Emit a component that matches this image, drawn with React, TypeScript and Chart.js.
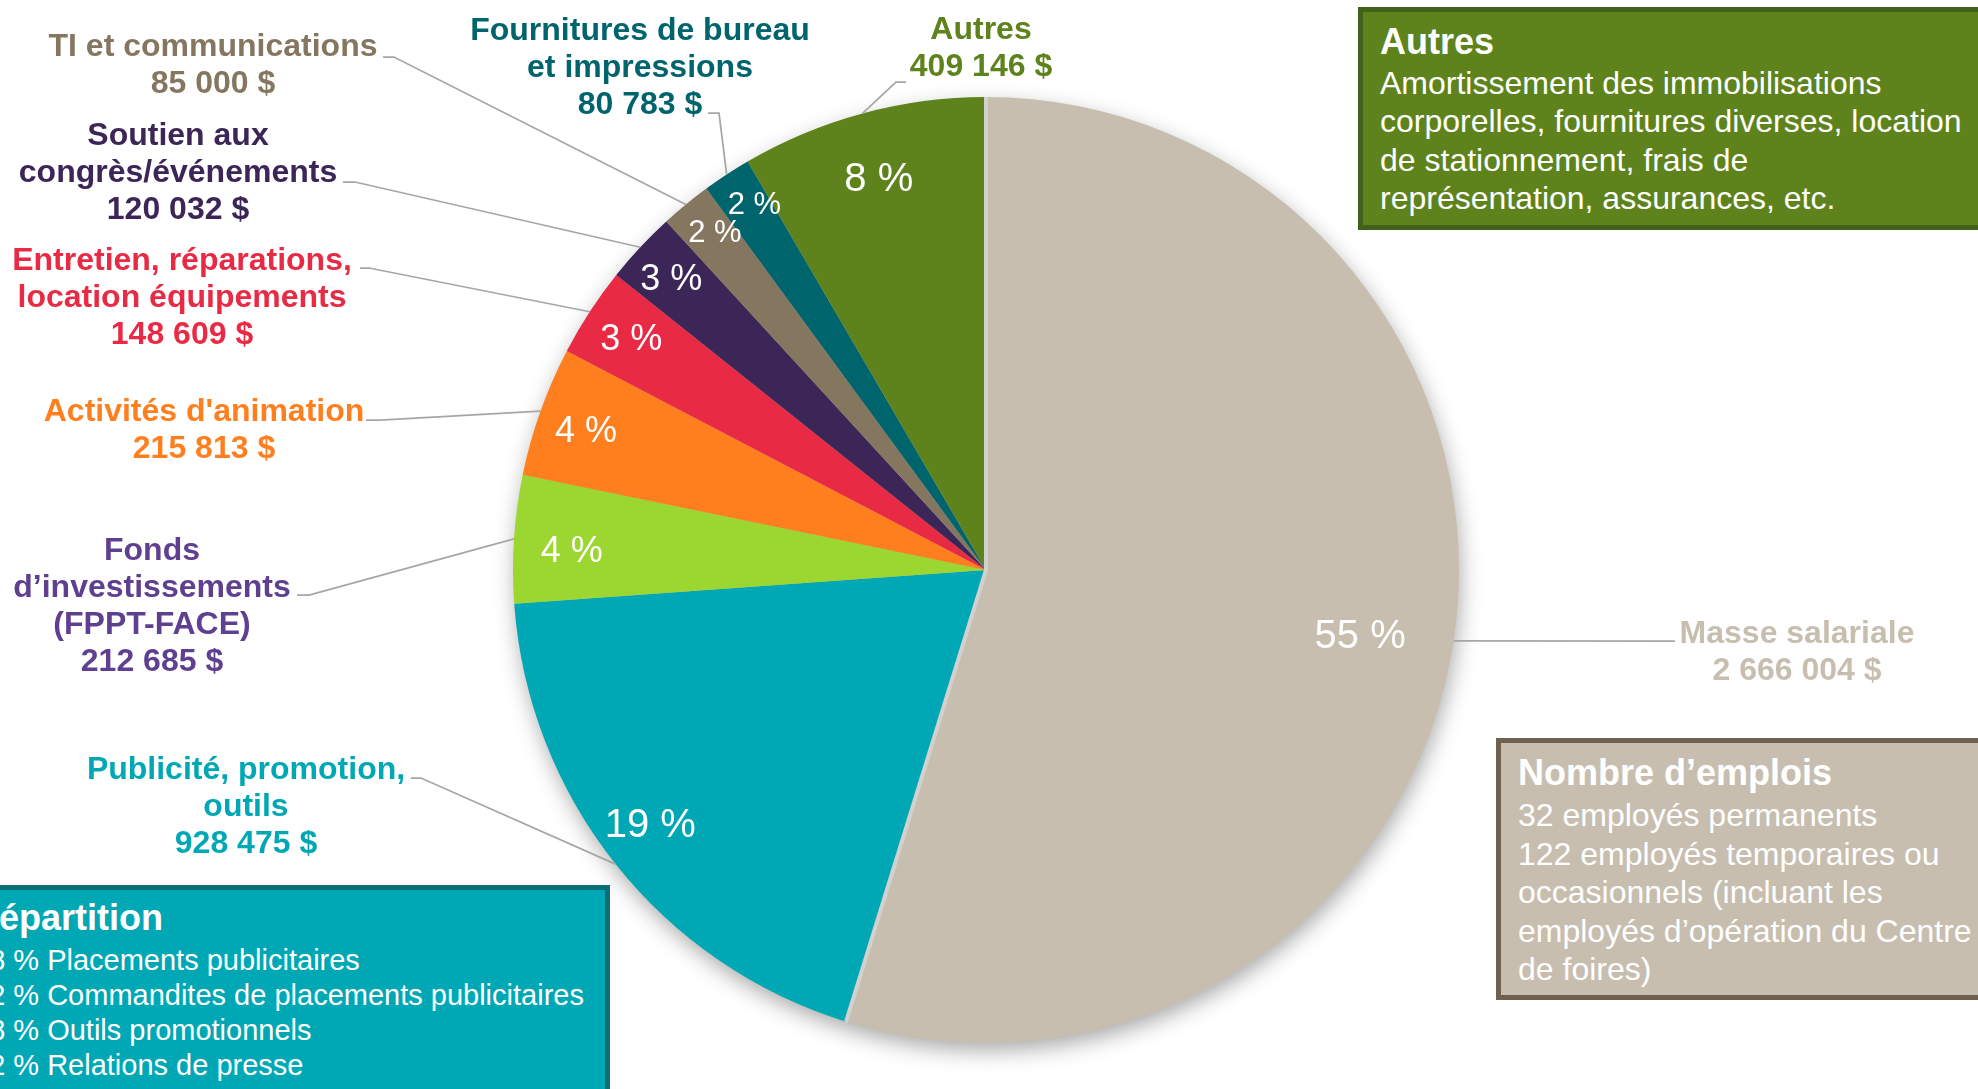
import React, { useEffect, useRef } from 'react';
import { Chart, registerables } from 'chart.js';

Chart.register(...registerables);

// ---------- DATA ----------
const categories: string[][] = [
  ['Masse salariale'],
  ['Publicité, promotion,', 'outils'],
  ['Fonds', 'd’investissements', '(FPPT-FACE)'],
  ["Activités d'animation"],
  ['Entretien, réparations,', 'location équipements'],
  ['Soutien aux', 'congrès/événements'],
  ['TI et communications'],
  ['Fournitures de bureau', 'et impressions'],
  ['Autres'],
];
const values: number[] = [2666004, 928475, 212685, 215813, 148609, 120032, 85000, 80783, 409146];
const percentLabels: string[] = ['55 %', '19 %', '4 %', '4 %', '3 %', '3 %', '2 %', '2 %', '8 %'];

const autresTitle = 'Autres';
const autresLines = [
  'Amortissement des immobilisations',
  'corporelles, fournitures diverses, location',
  'de stationnement, frais de',
  'représentation, assurances, etc.',
];
const emploisTitle = 'Nombre d’emplois';
const emploisLines = [
  '32 employés permanents',
  '122 employés temporaires ou',
  'occasionnels (incluant les',
  'employés d’opération du Centre',
  'de foires)',
];
const repartitionTitle = 'Répartition';
const repartitionLines = [
  '58 % Placements publicitaires',
  '12 % Commandites de placements publicitaires',
  '18 % Outils promotionnels',
  '12 % Relations de presse',
];

// ---------- STYLES ----------
const FONT = '"Liberation Sans", Arial, Helvetica, sans-serif';
const sliceColors = ['#C7BEB0', '#00A8B5', '#9BD631', '#FF7F1F', '#E82A45', '#3C2657', '#857660', '#00646C', '#5E831C'];
const labelColors = ['#C7BEB0', '#00A8B5', '#5F3F8F', '#FF7F1F', '#E82A45', '#3C2657', '#857660', '#00646C', '#5E831C'];
const pctFontSizes = [40, 40, 36, 36, 36, 36, 31, 31, 40];
const pctRadius = [0.8, 0.89, 0.88, 0.9, 0.9, 0.91, 0.92, 0.92, 0.86];
// fine placement nudges for percent labels (px)
const pctNudges: [number, number][] = [
  [0, 10], [-6, -6], [1, 9], [1, 5], [2, 3], [0, 4], [5, 0], [7, -1], [-1, 3],
];
// label text anchor: center x, first line center y
const labelAnchors: [number, number][] = [
  [1797, 634], [246, 770], [152, 551], [204, 412], [182, 261], [178, 136], [213, 47], [640, 31], [981, 30],
];
// leader: start x, y, elbow x (then towards the arc)
const leaders: [number, number, number][] = [
  [1675, 641, 1675], [411, 778, 421], [297, 595, 309], [366, 420, 380], [360, 268, 369],
  [343, 182, 355], [383, 57, 394], [708, 113, 719], [906, 82, 896],
];
const LINE_H = 37;

const fmtMoney = (v: number) => v.toString().replace(/\B(?=(\d{3})+(?!\d))/g, ' ') + ' $';

const decorPlugin = {
  id: 'decor',
  beforeDatasetsDraw(chart: any) {
    const el = chart.getDatasetMeta(0).data[0];
    if (!el) return;
    const { x, y, outerRadius } = el.getProps(['x', 'y', 'outerRadius'], true);
    const ctx = chart.ctx;
    ctx.save();
    ctx.shadowColor = 'rgba(0,0,0,0.35)';
    ctx.shadowBlur = 22;
    ctx.shadowOffsetX = 2;
    ctx.shadowOffsetY = 8;
    ctx.fillStyle = sliceColors[0];
    ctx.beginPath();
    ctx.arc(x, y, outerRadius - 1, 0, Math.PI * 2);
    ctx.fill();
    ctx.restore();
  },
  afterDatasetsDraw(chart: any) {
    const ctx = chart.ctx;
    const meta = chart.getDatasetMeta(0);
    const first = meta.data[0];
    const { x: cx, y: cy, outerRadius: R, startAngle: s0, endAngle: e0 } = first.getProps(
      ['x', 'y', 'outerRadius', 'startAngle', 'endAngle'], true);

    // light separators around the main slice
    ctx.save();
    ctx.strokeStyle = '#D3D1CE';
    ctx.lineWidth = 4;
    [s0, e0].forEach((a: number) => {
      ctx.beginPath();
      ctx.moveTo(cx, cy);
      ctx.lineTo(cx + Math.cos(a) * R, cy + Math.sin(a) * R);
      ctx.stroke();
    });
    ctx.restore();

    // percent labels
    ctx.save();
    ctx.fillStyle = '#FFFFFF';
    ctx.textAlign = 'center';
    ctx.textBaseline = 'middle';
    meta.data.forEach((el: any, i: number) => {
      const { startAngle, endAngle } = el.getProps(['startAngle', 'endAngle'], true);
      const mid = (startAngle + endAngle) / 2;
      const r = R * pctRadius[i];
      ctx.font = `${pctFontSizes[i]}px ${FONT}`;
      ctx.fillText(
        percentLabels[i],
        cx + Math.cos(mid) * r + pctNudges[i][0],
        cy + Math.sin(mid) * r + pctNudges[i][1],
      );
    });
    ctx.restore();

    // leader lines
    ctx.save();
    ctx.strokeStyle = '#A6A6A6';
    ctx.lineWidth = 1.75;
    meta.data.forEach((el: any, i: number) => {
      const { startAngle, endAngle } = el.getProps(['startAngle', 'endAngle'], true);
      const mid = (startAngle + endAngle) / 2;
      const [x1, y1, x2] = leaders[i];
      ctx.beginPath();
      ctx.moveTo(x1, y1);
      ctx.lineTo(x2, y1);
      ctx.lineTo(cx + Math.cos(mid) * R, cy + Math.sin(mid) * R);
      ctx.stroke();
    });
    ctx.restore();

    // outer labels
    ctx.save();
    ctx.textAlign = 'center';
    ctx.textBaseline = 'middle';
    ctx.font = `bold 32px ${FONT}`;
    categories.forEach((lines, i) => {
      const all = [...lines, fmtMoney(values[i])];
      const [lx, ly] = labelAnchors[i];
      ctx.fillStyle = labelColors[i];
      all.forEach((t, k) => ctx.fillText(t, lx, ly + k * LINE_H));
    });
    ctx.restore();
  },
};

const boxBase: React.CSSProperties = {
  position: 'absolute',
  boxSizing: 'border-box',
  color: '#FFFFFF',
  fontFamily: FONT,
  whiteSpace: 'nowrap',
  overflow: 'hidden',
};

export default function App() {
  const ref = useRef<HTMLCanvasElement>(null);

  useEffect(() => {
    if (!ref.current) return;
    const chart = new Chart(ref.current, {
      type: 'pie',
      data: {
        labels: categories.map((l) => l.join(' ')),
        datasets: [
          {
            data: values,
            backgroundColor: sliceColors,
            borderWidth: 0,
          },
        ],
      },
      options: {
        responsive: false,
        animation: false,
        events: [],
        layout: { padding: { left: 513, right: 519, top: 97, bottom: 46 } },
        plugins: { legend: { display: false }, tooltip: { enabled: false } },
      },
      plugins: [decorPlugin as any],
    });
    return () => chart.destroy();
  }, []);

  return (
    <div
      style={{
        position: 'fixed',
        left: 0,
        top: 0,
        width: 1978,
        height: 1089,
        overflow: 'hidden',
        background: '#FFFFFF',
      }}
    >
      <canvas ref={ref} width={1978} height={1089} style={{ position: 'absolute', left: 0, top: 0 }} />

      <div
        style={{
          ...boxBase,
          left: 1358,
          top: 7,
          width: 700,
          height: 223,
          border: '5px solid #42611A',
          background: '#5E831C',
          paddingLeft: 17,
          paddingTop: 10,
        }}
      >
        <div style={{ fontSize: 36, fontWeight: 'bold', lineHeight: '40px' }}>{autresTitle}</div>
        <div style={{ marginTop: 2 }}>
          {autresLines.map((t, i) => (
            <div key={i} style={{ fontSize: 32, lineHeight: '38.4px' }}>{t}</div>
          ))}
        </div>
      </div>

      <div
        style={{
          ...boxBase,
          left: 1496,
          top: 738,
          width: 600,
          height: 262,
          border: '5px solid #6E6150',
          background: '#C7BEB0',
          paddingLeft: 17,
          paddingTop: 10,
        }}
      >
        <div style={{ fontSize: 36, fontWeight: 'bold', lineHeight: '40px' }}>{emploisTitle}</div>
        <div style={{ marginTop: 3 }}>
          {emploisLines.map((t, i) => (
            <div key={i} style={{ fontSize: 32, lineHeight: '38.5px' }}>{t}</div>
          ))}
        </div>
      </div>

      <div
        style={{
          ...boxBase,
          left: -60,
          top: 885,
          width: 670,
          height: 300,
          border: '5px solid #0D6E76',
          background: '#00A8B5',
          paddingLeft: 28,
          paddingTop: 8,
        }}
      >
        <div style={{ fontSize: 36, fontWeight: 'bold', lineHeight: '40px' }}>{repartitionTitle}</div>
        <div style={{ marginTop: 4.5 }}>
          {repartitionLines.map((t, i) => (
            <div key={i} style={{ fontSize: 29, lineHeight: '35px' }}>{t}</div>
          ))}
        </div>
      </div>
    </div>
  );
}
